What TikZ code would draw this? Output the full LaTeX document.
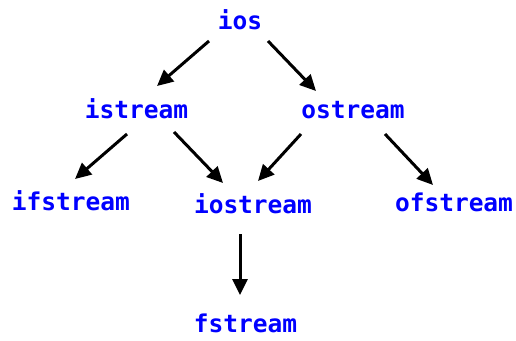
\documentclass[tikz,border=0pt]{standalone}
\usepackage{fontspec}
\setmonofont{DejaVu Sans Mono}
\usepackage{tikz}
\usetikzlibrary{arrows.meta}
\definecolor{classblue}{HTML}{0000FF}
\tikzset{
  cls/.style={anchor=base,inner sep=0pt,classblue,font=\ttfamily\bfseries\fontsize{24.5}{28}\selectfont},
  inh/.style={-{Triangle[length=16pt,width=15pt]},line width=3pt,black}
}

\begin{document}
\begin{tikzpicture}[x=1pt,y=-1pt]
    \useasboundingbox (0,0) rectangle (516,340);
    % class names
    \node[cls] (ios)      at (240,29)    {ios};
    \node[cls] (istream)  at (136.5,118) {istream};
    \node[cls] (ostream)  at (353,118)   {ostream};
    \node[cls] (ifstream) at (71,210)    {ifstream};
    \node[cls] (iostream) at (253,213)   {iostream};
    \node[cls] (ofstream) at (454,211)   {ofstream};
    \node[cls] (fstream)  at (245.5,332) {fstream};
    % inheritance arrows
    \draw[inh] ([shift={(-31,12)}]ios.base) -- ([shift={(20.5,-32)}]istream.base);
    \draw[inh] ([shift={(28,12)}]ios.base) -- ([shift={(-37,-27)}]ostream.base);
    \draw[inh] ([shift={(-9.5,16)}]istream.base) -- ([shift={(4,-31)}]ifstream.base);
    \draw[inh] ([shift={(37.5,14)}]istream.base) -- ([shift={(-30,-30)}]iostream.base);
    \draw[inh] ([shift={(-52,16)}]ostream.base) -- ([shift={(5,-32)}]iostream.base);
    \draw[inh] ([shift={(32,16)}]ostream.base) -- ([shift={(-21,-26)}]ofstream.base);
    \draw[inh] ([shift={(-13,21)}]iostream.base) -- ([shift={(-5.5,-37)}]fstream.base);
\end{tikzpicture}
\end{document}
